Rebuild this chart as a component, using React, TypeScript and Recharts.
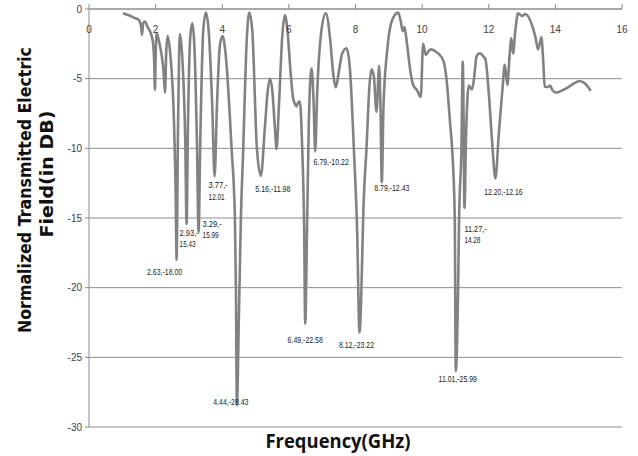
import { LineChart, Line, XAxis, YAxis, CartesianGrid, ReferenceDot } from "recharts";

// Frequency (GHz) and normalized transmitted field (dB)
const FREQ = [
  1.02, 1.2, 1.38, 1.5, 1.56, 1.59, 1.63, 1.68, 1.76, 1.85, 1.92, 1.96, 1.98, 2.0, 2.03, 2.1, 2.18, 2.24, 2.28,
  2.32, 2.36, 2.45, 2.55, 2.6, 2.63, 2.67, 2.73, 2.8, 2.89, 2.93, 2.97, 3.04, 3.1, 3.16, 3.24, 3.29, 3.34, 3.43,
  3.51, 3.59, 3.7, 3.77, 3.84, 3.93, 4.01, 4.1, 4.28, 4.38, 4.41, 4.44, 4.5, 4.56, 4.63, 4.72, 4.81, 4.9, 5.04,
  5.16, 5.28, 5.36, 5.43, 5.5, 5.58, 5.63, 5.7, 5.8, 5.88, 5.96, 6.05, 6.12, 6.18, 6.23, 6.28, 6.33, 6.4, 6.46,
  6.49, 6.55, 6.6, 6.68, 6.74, 6.79, 6.85, 6.98, 7.11, 7.24, 7.33, 7.41, 7.5, 7.6, 7.73, 7.83, 7.95, 8.05, 8.12,
  8.2, 8.23, 8.33, 8.42, 8.48, 8.55, 8.63, 8.71, 8.75, 8.79, 8.84, 8.95, 9.1, 9.28, 9.36, 9.42, 9.47, 9.55, 9.65,
  9.73, 9.84, 9.96, 10.03, 10.11, 10.2, 10.28, 10.4, 10.53, 10.65, 10.73, 10.85, 10.9, 10.98, 11.01, 11.08, 11.11,
  11.18, 11.22, 11.25, 11.27, 11.32, 11.4, 11.5, 11.58, 11.63, 11.73, 11.86, 11.9, 12.0, 12.1, 12.2, 12.3, 12.42,
  12.48, 12.56, 12.62, 12.68, 12.73, 12.8, 12.88, 13.0, 13.1, 13.28, 13.4, 13.48, 13.58, 13.63, 13.68, 13.78,
  13.84, 13.92, 14.03, 14.2, 14.38, 14.55, 14.73, 14.88, 15.06,
];
const DB = [
  -0.3, -0.45, -0.65, -0.8, -1.2, -1.85, -1.0, -0.9, -1.3, -1.7, -2.4, -4.0, -5.8, -3.5, -1.7, -2.3, -3.3, -4.5, -6.0,
  -3.0, -1.95, -3.5, -8.0, -13, -18.0, -9, -1.8, -3.5, -9.5, -15.43, -8.5, -2.0, -1.03, -2.5, -9.5, -15.99, -9.5, -1.5,
  -0.26, -1.5, -7, -12.01, -7, -2.6, -1.94, -3.2, -10, -15, -20, -28.43, -22, -15, -10, -3.0, -0.26, -1.5, -10,
  -11.98, -8.5, -6, -5.0, -5.8, -8.5, -10.05, -7, -2.0, -0.43, -1.6, -4.5, -6.3, -6.8, -7.0, -6.7, -6.65, -10, -16,
  -22.58, -15, -8, -4.25, -6.5, -10.22, -6, -1.5, -0.31, -2.2, -4.6, -5.62, -4.5, -3.2, -2.82, -4.2, -10, -16, -23.22,
  -18, -15, -10, -5.5, -4.33, -4.8, -7.37, -4.07, -7, -12.43, -7, -3.0, -0.8, -0.26, -0.9, -1.6, -1.3, -2.6, -4.5,
  -5.45, -5.8, -6.3, -2.5, -3.3, -3.0, -2.9, -3.05, -3.3, -3.8, -5.0, -8.5, -10, -15, -25.99, -20, -15,
  -10, -3.78, -9, -14.28, -9, -5.5, -5.77, -4.5, -3.42, -3.18, -3.47, -3.6, -6, -9.5, -12.16, -9, -5.5,
  -4.0, -5.45, -3.5, -2.1, -3.18, -1.5, -0.31, -0.5, -0.36, -1.03, -2.0, -2.9, -2.03, -3.5, -5.58, -5.6,
  -5.5, -5.85, -6.0, -5.85, -5.62, -5.35, -5.17, -5.33, -5.86,
];

// Annotated minima
const DIP_FREQ = [2.63, 2.93, 3.29, 3.77, 4.44, 5.16, 6.49, 6.79, 8.12, 8.79, 11.01, 11.27, 12.2];
const DIP_DB = [-18.0, -15.43, -15.99, -12.01, -28.43, -11.98, -22.58, -10.22, -23.22, -12.43, -25.99, -14.28, -12.16];
const DIP_TEXT = [
  ["2.63,-18.00"],
  ["2.93,-", "15.43"],
  ["3.29,-", "15.99"],
  ["3.77,-", "12.01"],
  ["4.44,-28.43"],
  ["5.16,-11.98"],
  ["6.49,-22.58"],
  ["6.79,-10.22"],
  ["8.12,-23.22"],
  ["8.79,-12.43"],
  ["11.01,-25.99"],
  ["11.27,-", "14.28"],
  ["12.20,-12.16"],
];

const X_TICKS = [0, 2, 4, 6, 8, 10, 12, 14, 16];
const Y_TICKS = [0, -5, -10, -15, -20, -25, -30];

const data = FREQ.map((f, i) => ({ f, db: DB[i] }));

// label placement relative to the dip tip: [dx, dy, anchor]
const LABEL_POS: [number, number, string][] = [
  [-12, 15, "middle"],
  [-7, 12, "start"],
  [4, -5, "start"],
  [-6, 12, "start"],
  [-6, 0, "middle"],
  [12, 16, "middle"],
  [0, 19, "middle"],
  [16, 14, "middle"],
  [-3, 15, "middle"],
  [10, 9, "middle"],
  [2, 11, "middle"],
  [0, 24, "start"],
  [8, 17, "middle"],
];

const GRID = "#8c8c8c";
const TICK_FONT = "'Liberation Sans', sans-serif";

const XTick = ({ x, payload }: any) => (
  <text x={x} y={33} textAnchor="middle" fontSize={10} fill="#404040" fontFamily={TICK_FONT}>
    {payload.value}
  </text>
);

// Excel squeezed these labels, so fit each line to a narrow width
const dipLabel = (i: number) => (props: any) => {
  const vb = props.viewBox || {};
  const [dx, dy, anchor] = LABEL_POS[i];
  const x = vb.x + dx;
  const y = vb.y + dy;
  return (
    <g>
      {DIP_TEXT[i].map((t, k) => (
        <text
          key={k}
          x={x}
          y={y + k * 11.5}
          textAnchor={anchor as any}
          fontSize={9.5}
          fill="#222"
          fontFamily={TICK_FONT}
          textLength={t.length * 3.2}
          lengthAdjust="spacingAndGlyphs"
        >
          {t}
        </text>
      ))}
    </g>
  );
};

export default function App() {
  return (
    <div style={{ position: "absolute", left: 0, top: 0, width: 638, height: 456, background: "#fff" }}>
      <LineChart width={638} height={456} data={data} margin={{ top: 0, right: 16, bottom: 29, left: 29 }}>
        <CartesianGrid vertical={false} stroke={GRID} />
        <XAxis
          dataKey="f"
          type="number"
          orientation="top"
          domain={[0, 16]}
          ticks={X_TICKS}
          height={9}
          tickSize={5}
          axisLine={{ stroke: GRID }}
          tickLine={{ stroke: GRID }}
          tick={(p: any) => <XTick {...p} />}
        />
        <YAxis
          type="number"
          domain={[-30, 0]}
          ticks={Y_TICKS}
          width={60}
          tickSize={4}
          tickMargin={3}
          axisLine={{ stroke: GRID }}
          tickLine={{ stroke: GRID }}
          tick={{ fontSize: 10, fill: "#404040", fontFamily: TICK_FONT }}
        />
        <Line
          type="monotone"
          dataKey="db"
          stroke="#828282"
          strokeWidth={2.6}
          dot={false}
          isAnimationActive={false}
        />
        {DIP_FREQ.map((f, i) => (
          <ReferenceDot
            key={i}
            x={f}
            y={DIP_DB[i]}
            r={0}
            fill="none"
            stroke="none"
            label={dipLabel(i)}
          />
        ))}
        <text
          transform="translate(31,190) rotate(-90)"
          textAnchor="middle"
          fontSize={18}
          fontWeight="bold"
          fill="#111"
          fontFamily="'DejaVu Sans', sans-serif"
          textLength={286}
          lengthAdjust="spacingAndGlyphs"
        >
          Normalized Transmitted Electric
        </text>
        <text
          transform="translate(53,174) rotate(-90)"
          textAnchor="middle"
          fontSize={18}
          fontWeight="bold"
          fill="#111"
          fontFamily="'DejaVu Sans', sans-serif"
          textLength={127}
          lengthAdjust="spacingAndGlyphs"
        >
          Field(in DB)
        </text>
        <text
          x={338}
          y={448}
          textAnchor="middle"
          fontSize={19}
          fontWeight="bold"
          fill="#111"
          fontFamily="'Open Sans', sans-serif"
          textLength={145}
          lengthAdjust="spacingAndGlyphs"
        >
          Frequency(GHz)
        </text>
      </LineChart>
    </div>
  );
}
